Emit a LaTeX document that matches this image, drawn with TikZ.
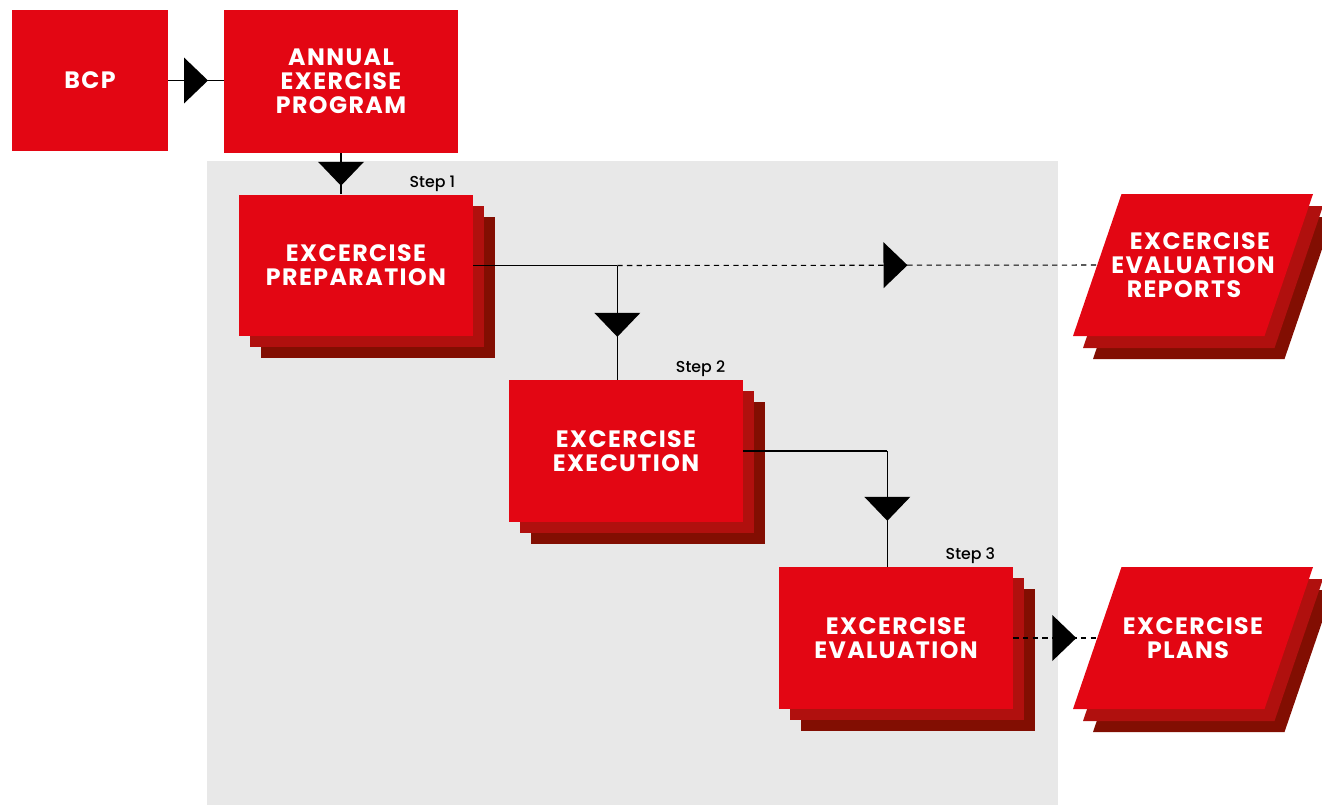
\documentclass[tikz,border=0pt]{standalone}
\usepackage{fontspec}
\setmainfont{Poppins}
\newfontfamily\boxfont{Poppins}[LetterSpace=6]
\IfFontExistsTF{Poppins Medium}
  {\newfontfamily\stepfont{Poppins Medium}}
  {\newfontfamily\stepfont{Poppins}}
\usetikzlibrary{shadows,decorations.markings,calc}

\definecolor{boxred}{RGB}{227,6,19}
\definecolor{shadowA}{RGB}{176,16,14}
\definecolor{shadowB}{RGB}{130,14,2}
\definecolor{panelgrey}{RGB}{232,232,232}

\tikzset{
  stacked/.style={
    general shadow={fill=shadowB, shadow xshift=0.44cm, shadow yshift=-0.44cm},
    general shadow={fill=shadowA, shadow xshift=0.22cm, shadow yshift=-0.22cm}},
  redbox/.style={fill=boxred, text=white, align=center, inner sep=0pt,
    font=\boxfont\fontsize{13.5}{13.7}\selectfont\bfseries},
  stepbox/.style={redbox, stacked, minimum width=4.68cm, minimum height=2.84cm},
  outbox/.style={redbox, fill=none, minimum width=3.83cm, minimum height=2.84cm},
  steplabel/.style={font=\stepfont\fontsize{9}{10}\selectfont, anchor=base east},
  flow/.style={line width=0.6pt},
  flowdash/.style={flow, dash pattern=on 3pt off 2.5pt},
  midtri/.style={postaction={decorate, decoration={markings,
    mark=at position #1 with {\fill (0.24cm,0) -- (-0.24cm,0.46cm) -- (-0.24cm,-0.46cm) -- cycle;}}}}
}

% Параллелограмм-стопка вокруг точки #1 (три слоя)
\newcommand{\outslab}[1]{%
  \foreach \dx/\dy/\c in {20/23/shadowB, 10/12/shadowA, 0/0/boxred}
    \fill[\c, shift={($(#1)+(\dx,\dy)$)}] (-71.5,-71) -- (120,-71) -- (71.5,71) -- (-120,71) -- cycle;}

\begin{document}
\begin{tikzpicture}[x=0.02cm, y=-0.02cm]
    % --- ПОЛЕ ---
    \useasboundingbox (0,0) rectangle (1322,805);
    % Серая подложка под шагами
    \fill[panelgrey] (207,161) rectangle (1058,805);

    % --- ВЕРХНИЙ РЯД ---
    \node[redbox, minimum width=3.12cm, minimum height=2.82cm] (bcp) at (90,80.5) {BCP};
    \node[redbox, minimum width=4.68cm, minimum height=2.86cm] (annual) at (341,81.5) {ANNUAL\\EXERCISE\\PROGRAM};

    % --- ШАГИ (стопки) ---
    \node[stepbox] (prep) at (356,265.5) {EXCERCISE\\PREPARATION};
    \node[stepbox] (exec) at (626,451) {EXCERCISE\\EXECUTION};
    \node[stepbox] (eval) at (896,638) {EXCERCISE\\EVALUATION};

    % Подписи шагов
    \node[steplabel] (step1) at ([xshift=-0.24cm, yshift=0.14cm]prep.north east) {Step 1};
    \node[steplabel] (step2) at ([xshift=-0.24cm, yshift=0.14cm]exec.north east) {Step 2};
    \node[steplabel] (step3) at ([xshift=-0.24cm, yshift=0.14cm]eval.north east) {Step 3};

    % --- РЕЗУЛЬТАТЫ (параллелограммы) ---
    \coordinate (reportsc) at (1193,265);
    \coordinate (plansc) at (1193,638);
    \outslab{reportsc}
    \outslab{plansc}
    \node[outbox] (reports) at (reportsc) {\hspace*{0.28cm}EXCERCISE\\EVALUATION\\REPORTS\hspace*{0.36cm}};
    \node[outbox] (plans) at (plansc) {EXCERCISE\\PLANS\hspace*{0.2cm}};

    % --- СВЯЗИ ---
    \coordinate (split1) at ($(prep.east)+(144,0)$);
    \coordinate (split2) at ($(exec.east)+(144,0)$);

    \draw[flow, midtri=0.5] (bcp.east) -- (bcp.east -| annual.west);
    \draw[flow, midtri=0.5] (annual.south) -- (annual.south |- prep.north);

    % 1 -> 2, и пунктир к отчётам
    \draw[flow] (prep.east) -- (split1);
    \draw[flow, midtri=0.52] (split1) -- (split1 |- exec.north);
    \draw[flowdash, midtri=0.58] (split1) -- (reports.west);

    % 2 -> 3
    \draw[flow] (exec.east) -- (split2);
    \draw[flow, midtri=0.5] (split2) -- (split2 |- eval.north);

    % 3 -> планы
    \draw[flowdash, midtri=0.61] (eval.east) -- (plans.west);

\end{tikzpicture}
\end{document}
